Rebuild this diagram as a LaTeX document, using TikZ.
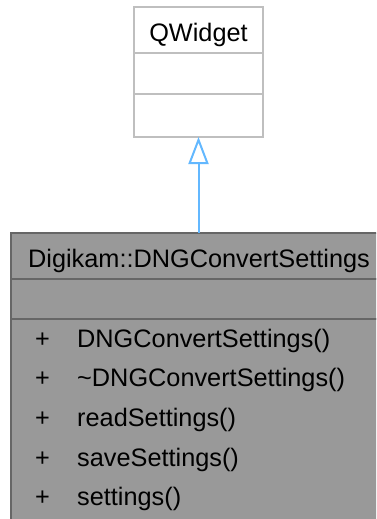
\documentclass[tikz,border=0pt]{standalone}
\usepackage{fontspec}
\setmainfont{Liberation Sans}
\usetikzlibrary{arrows.meta}
\definecolor{basebd}{HTML}{BFBFBF}
\definecolor{curfill}{HTML}{999999}
\definecolor{curbd}{HTML}{666666}
\definecolor{inh}{HTML}{63B8FF}
\begin{document}
\begin{tikzpicture}[x=1pt,y=-1pt,
  compart/.style={draw, line width=2pt, rectangle, anchor=north west, inner sep=0pt, outer sep=0pt},
  basec/.style={compart, draw=basebd, fill=white},
  curc/.style={compart, draw=curbd, fill=curfill},
  lbl/.style={anchor=base, inner sep=0pt, font=\fontsize{25.3}{30}\selectfont},
  mem/.style={lbl, anchor=base west},
  inherit/.style={draw=inh, line width=2pt, -{Triangle[open, length=27pt, width=20pt, line width=2pt]}}]
\useasboundingbox (0,0) rectangle (376,519);
\clip (0,0) rectangle (376,519);
% base class QWidget
\node[basec, minimum width=129pt, minimum height=46pt] (qwtitle) at (134,7) {};
\node[basec, minimum width=129pt, minimum height=41pt] (qwattr) at (134,53) {};
\node[basec, minimum width=129pt, minimum height=43pt] (qwops) at (134,94) {};
\node[lbl] (qwname) at (198.5,41.7) {QWidget};
% current class
\node[curc, minimum width=400pt, minimum height=46pt] (bttitle) at (11,233) {};
\node[curc, minimum width=400pt, minimum height=40pt] (btattr) at (11,279) {};
\node[curc, minimum width=400pt, minimum height=230pt] (btops) at (11,319) {};
\node[lbl] (btname) at (199,267) {Digikam::DNGConvertSettings};
\foreach \i/\t in {0/DNGConvertSettings(), 1/\textasciitilde DNGConvertSettings(), 2/readSettings(), 3/saveSettings(), 4/settings()} {
  \node[lbl] (plus\i) at (42.6,{347+39.7*\i}) {+};
  \node[mem] (m\i) at (77,{347+39.7*\i}) {\t};
}
% inheritance
\draw[inherit] (qwops.south |- bttitle.north) -- (qwops.south);
\end{tikzpicture}
\end{document}
